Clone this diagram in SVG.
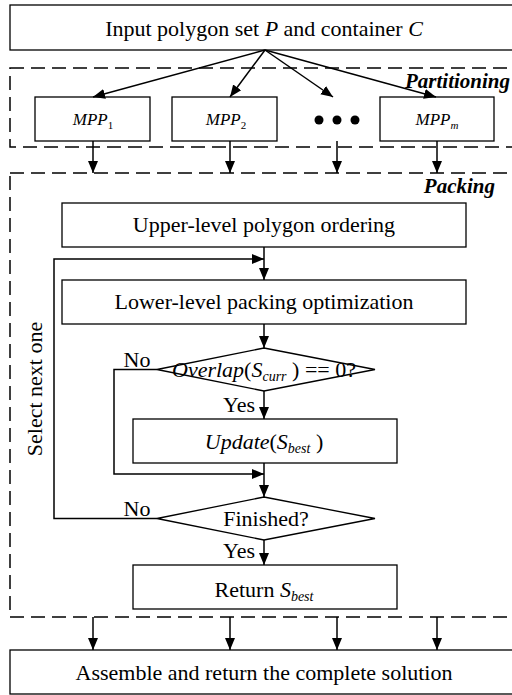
<svg xmlns="http://www.w3.org/2000/svg" width="512" height="695" viewBox="0 0 512 695">
<defs>
<marker id="ah" markerWidth="12" markerHeight="12" viewBox="0 0 12 12" refX="12" refY="6" orient="auto" markerUnits="userSpaceOnUse">
<path d="M0,1 L12,6 L0,11 Z" fill="#000"/>
</marker>
<style>
.box{fill:#fff;stroke:#000;stroke-width:1.3}
.dash{fill:none;stroke:#000;stroke-width:1.5;stroke-dasharray:14 7}
.t{font-family:"Liberation Serif","Times New Roman",serif;font-size:22px;fill:#000;text-anchor:middle}
.i{font-style:italic}
.lbl{font-family:"Liberation Serif","Times New Roman",serif;font-size:21px;font-weight:bold;font-style:italic;fill:#000}
.c{fill:none;stroke:#000;stroke-width:1.5}
</style>
</defs>
<rect width="512" height="695" fill="#fff"/>
<g id="partitioning-region"><rect class="dash" x="10" y="68" width="520" height="79"/><text class="lbl" x="405" y="88">Partitioning</text></g>
<g id="packing-region"><rect class="dash" x="10" y="173" width="520" height="444"/><text class="lbl" x="495" y="193" text-anchor="end">Packing</text></g>
<g id="input"><rect class="box" x="10" y="5" width="520" height="45"/><text class="t" x="264" y="36">Input polygon set <tspan class="i">P</tspan> and container <tspan class="i">C</tspan></text></g>
<g id="mpp1"><rect class="box" x="35" y="97" width="115" height="44"/><text class="t" x="93" y="125" style="font-size:17px"><tspan class="i">MPP</tspan><tspan font-size="11" dy="4">1</tspan></text></g>
<g id="mpp2"><rect class="box" x="172" y="97" width="105" height="44"/><text class="t" x="226" y="125" style="font-size:17px"><tspan class="i">MPP</tspan><tspan font-size="11" dy="4">2</tspan></text></g>
<g id="dots"><circle cx="319" cy="120" r="4.5"/><circle cx="337" cy="120" r="4.5"/><circle cx="355" cy="120" r="4.5"/></g>
<g id="mppm"><rect class="box" x="380" y="97" width="114" height="44"/><text class="t" x="437" y="125" style="font-size:17px"><tspan class="i">MPP</tspan><tspan class="i" font-size="11" dy="4">m</tspan></text></g>
<g id="upper"><rect class="box" x="62" y="203" width="404" height="44"/><text class="t" x="264" y="232">Upper-level polygon ordering</text></g>
<g id="lower"><rect class="box" x="62" y="280" width="404" height="44"/><text class="t" x="264" y="309">Lower-level packing optimization</text></g>
<g id="overlap"><polygon class="box" points="264,348 375,369.5 264,391 157,369.5"/><text class="t" x="264" y="377"><tspan class="i">Overlap</tspan>(<tspan class="i">S</tspan><tspan class="i" font-size="14" dy="4">curr</tspan><tspan dy="-4"> ) == 0?</tspan></text></g>
<g id="update"><rect class="box" x="133" y="419" width="264" height="44"/><text class="t" x="264" y="449"><tspan class="i">Update</tspan>(<tspan class="i">S</tspan><tspan class="i" font-size="14" dy="4">best</tspan><tspan dy="-4"> )</tspan></text></g>
<g id="finished"><polygon class="box" points="264,497 375,518.5 264,540 157,518.5"/><text class="t" x="266" y="526">Finished?</text></g>
<g id="return"><rect class="box" x="133" y="565" width="264" height="44"/><text class="t" x="264" y="597">Return <tspan class="i">S</tspan><tspan class="i" font-size="14" dy="4">best</tspan></text></g>
<g id="assemble"><rect class="box" x="10" y="650" width="520" height="44"/><text class="t" x="264" y="680">Assemble and return the complete solution</text></g>
<g id="connectors">
<line class="c" x1="265" y1="50" x2="93" y2="97" marker-end="url(#ah)"/>
<line class="c" x1="265" y1="50" x2="230" y2="97" marker-end="url(#ah)"/>
<line class="c" x1="265" y1="50" x2="333" y2="97" marker-end="url(#ah)"/>
<line class="c" x1="265" y1="50" x2="436" y2="97" marker-end="url(#ah)"/>
<line class="c" x1="93" y1="141" x2="93" y2="173" marker-end="url(#ah)"/>
<line class="c" x1="230" y1="141" x2="230" y2="173" marker-end="url(#ah)"/>
<line class="c" x1="337" y1="141" x2="337" y2="173" marker-end="url(#ah)"/>
<line class="c" x1="437" y1="141" x2="437" y2="173" marker-end="url(#ah)"/>
<line class="c" x1="264" y1="247" x2="264" y2="280" marker-end="url(#ah)"/>
<line class="c" x1="264" y1="324" x2="264" y2="348" marker-end="url(#ah)"/>
<line class="c" x1="264" y1="391" x2="264" y2="419" marker-end="url(#ah)"/>
<line class="c" x1="264" y1="463" x2="264" y2="497" marker-end="url(#ah)"/>
<line class="c" x1="264" y1="540" x2="264" y2="565" marker-end="url(#ah)"/>
<polyline class="c" points="157,369.5 114,369.5 114,474 264,474" marker-end="url(#ah)"/>
<polyline class="c" points="157,518.5 54,518.5 54,259 264,259" marker-end="url(#ah)"/>
<line class="c" x1="93" y1="617" x2="93" y2="650" marker-end="url(#ah)"/>
<line class="c" x1="230" y1="617" x2="230" y2="650" marker-end="url(#ah)"/>
<line class="c" x1="337" y1="617" x2="337" y2="650" marker-end="url(#ah)"/>
<line class="c" x1="437" y1="617" x2="437" y2="650" marker-end="url(#ah)"/>
</g>
<g id="edge-labels">
<text class="t" x="137" y="367">No</text>
<text class="t" x="239" y="412">Yes</text>
<text class="t" x="137" y="516">No</text>
<text class="t" x="239" y="558">Yes</text>
<text class="t" x="0" y="0" transform="translate(42,389) rotate(-90)">Select next one</text>
</g>
</svg>
